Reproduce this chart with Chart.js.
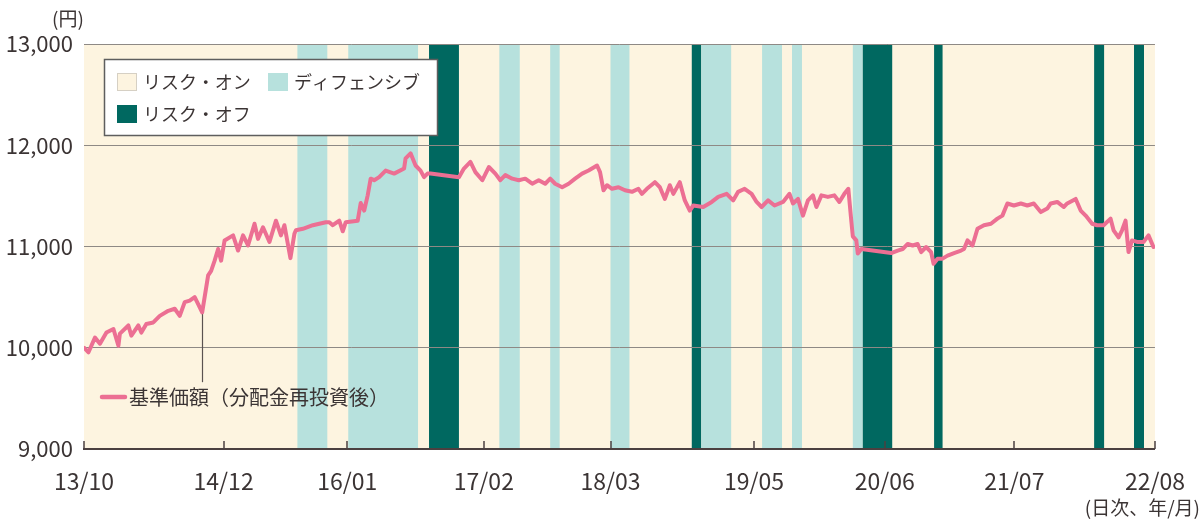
<!DOCTYPE html>
<html lang="ja">
<head>
<meta charset="utf-8">
<title>基準価額の推移</title>
<script src="https://cdn.jsdelivr.net/npm/chart.js"></script>
<style>
  body { margin: 0; background: #fff; }
  canvas { display: block; }
</style>
</head>
<body>
<canvas id="navChart" width="1203" height="519"></canvas>
<script>
// x = trading-day index from 2013/10 (about 2 days per step of the axis)
const tickDays   = [0, 280, 528, 802, 1056, 1344, 1606, 1866, 2148];
const tickLabels = ['13/10', '14/12', '16/01', '17/02', '18/03', '19/05', '20/06', '21/07', '22/08'];
const yTicks     = [9000, 10000, 11000, 12000, 13000];

// 基準価額（分配金再投資後）
const navDay = [
  0, 9, 22, 32, 45, 59, 69, 72, 89, 95, 109, 115, 125, 139, 152, 169, 182, 192, 202, 212,
  222, 229, 237, 249, 255, 262, 269, 275, 282, 299, 309, 319, 329, 342, 349, 359, 372, 385, 395, 402,
  414, 422, 425, 439, 459, 485, 492, 499, 512, 519, 525, 549, 555, 562, 569, 575, 582, 592, 605, 622,
  642, 645, 655, 665, 675, 682, 689, 695, 752, 762, 775, 785, 799, 812, 825, 835, 845, 859, 872, 885,
  899, 912, 925, 935, 945, 959, 972, 985, 999, 1012, 1029, 1035, 1042, 1049, 1059, 1072, 1085, 1099, 1112, 1119,
  1129, 1145, 1155, 1165, 1175, 1182, 1195, 1205, 1215, 1222, 1242, 1259, 1272, 1289, 1302, 1312, 1325, 1339, 1349, 1359,
  1372, 1385, 1402, 1415, 1422, 1432, 1442, 1452, 1462, 1469, 1479, 1492, 1505, 1515, 1525, 1533, 1539, 1542, 1549, 1552,
  1559, 1619, 1632, 1642, 1652, 1662, 1672, 1679, 1689, 1699, 1704, 1712, 1722, 1732, 1745, 1759, 1765, 1772, 1782, 1792,
  1805, 1819, 1832, 1842, 1852, 1865, 1879, 1892, 1905, 1919, 1932, 1939, 1952, 1965, 1972, 1989, 1999, 2009, 2022, 2032,
  2045, 2059, 2065, 2075, 2082, 2089, 2095, 2102, 2112, 2125, 2135, 2145
];
const navValue = [
  10000, 9955, 10100, 10040, 10150, 10185, 10020, 10140, 10220, 10120, 10220, 10150, 10235, 10250, 10315, 10365, 10385, 10315, 10450, 10465,
  10500, 10430, 10350, 10715, 10760, 10860, 10975, 10860, 11060, 11110, 10960, 11110, 11010, 11225, 11075, 11190, 11045, 11255, 11110, 11210,
  10885, 11125, 11160, 11175, 11210, 11240, 11240, 11210, 11255, 11150, 11240, 11255, 11430, 11355, 11505, 11670, 11655, 11685, 11750, 11720,
  11770, 11870, 11920, 11800, 11750, 11685, 11720, 11720, 11685, 11770, 11835, 11735, 11655, 11785, 11720, 11655, 11705, 11670, 11655, 11670,
  11620, 11655, 11620, 11670, 11620, 11585, 11620, 11670, 11720, 11750, 11800, 11735, 11555, 11605, 11570, 11585, 11555, 11540, 11570, 11520,
  11570, 11635, 11585, 11470, 11605, 11520, 11635, 11455, 11355, 11405, 11390, 11440, 11490, 11520, 11455, 11540, 11570, 11520, 11440, 11390,
  11455, 11405, 11440, 11520, 11425, 11470, 11305, 11455, 11505, 11390, 11505, 11490, 11505, 11440, 11520, 11570, 11250, 11100, 11060, 10930,
  10975, 10935, 10960, 10975, 11025, 11010, 11025, 10945, 10995, 10945, 10830, 10880, 10880, 10910, 10935, 10960, 10975, 11060, 11010, 11175,
  11210, 11225, 11275, 11305, 11425, 11405, 11425, 11405, 11425, 11340, 11375, 11425, 11440, 11390, 11425, 11470, 11355, 11305, 11225, 11210,
  11210, 11275, 11160, 11090, 11160, 11255, 10945, 11060, 11045, 11045, 11110, 10995
];

// regime periods (everything else is リスク・オン)
const regimeNames  = ['リスク・オン', 'ディフェンシブ', 'リスク・オフ'];
const regimeColors = ['#fdf4e0', '#b7e1dd', '#006860'];
const regimeStart  = [428, 530, 692, 833, 935, 1056, 1219, 1238, 1360, 1420, 1542, 1562, 1705, 2026, 2106];
const regimeEnd    = [488, 670, 752, 874, 954, 1094, 1238, 1298, 1400, 1440, 1562, 1621, 1722, 2046, 2126];
const regimeType   = [1, 1, 2, 1, 1, 1, 2, 1, 1, 1, 1, 2, 2, 2, 2];

// leader from the series label up to the line
const labelDay = 237, labelFrom = 10350, labelTo = 9660;

const FONT = '"Noto Sans CJK JP", "Noto Sans", sans-serif';
const TEXT = '#3b3434';
const LINE = '#ec6f93';

const backdrop = {
  id: 'backdrop',
  beforeDraw(chart) {
    const { ctx, chartArea: a, scales: { x } } = chart;
    ctx.save();
    ctx.fillStyle = regimeColors[0];
    ctx.fillRect(a.left, a.top, a.right - a.left, a.bottom - a.top);
    for (let i = 0; i < regimeStart.length; i++) {
      const x0 = x.getPixelForValue(regimeStart[i]);
      const x1 = x.getPixelForValue(regimeEnd[i]);
      ctx.fillStyle = regimeColors[regimeType[i]];
      ctx.fillRect(x0, a.top, x1 - x0, a.bottom - a.top);
    }
    ctx.restore();
  },
  beforeDatasetsDraw(chart) {
    const { ctx, scales: { x, y } } = chart;
    const px = Math.round(x.getPixelForValue(labelDay)) + 0.5;
    ctx.save();
    ctx.strokeStyle = '#5a5250';
    ctx.lineWidth = 1.2;
    ctx.beginPath();
    ctx.moveTo(px, y.getPixelForValue(labelFrom));
    ctx.lineTo(px, y.getPixelForValue(labelTo));
    ctx.stroke();
    ctx.restore();
  },
  afterDraw(chart) {
    const { ctx, chartArea: a, scales: { x } } = chart;
    ctx.save();
    // inward tick marks on the x axis
    ctx.strokeStyle = '#4b4040';
    ctx.lineWidth = 1.5;
    tickDays.forEach(d => {
      const px = Math.round(x.getPixelForValue(d));
      ctx.beginPath();
      ctx.moveTo(px, a.bottom);
      ctx.lineTo(px, a.bottom - 8);
      ctx.stroke();
    });

    // series label
    ctx.strokeStyle = LINE;
    ctx.lineWidth = 4.5;
    ctx.lineCap = 'round';
    ctx.beginPath();
    ctx.moveTo(102, 397);
    ctx.lineTo(125, 397);
    ctx.stroke();
    ctx.fillStyle = TEXT;
    ctx.font = '20px ' + FONT;
    ctx.textBaseline = 'middle';
    ctx.textAlign = 'left';
    ctx.fillText('基準価額（分配金再投資後）', 129, 397);

    // regime legend box
    ctx.fillStyle = '#fff';
    ctx.fillRect(104, 59, 333, 76);
    ctx.strokeStyle = '#5e5e5e';
    ctx.lineWidth = 1.5;
    ctx.strokeRect(104.5, 59.5, 333, 76);
    const items = [[117, 73, 0], [268, 73, 1], [117, 105, 2]];
    ctx.font = '18px ' + FONT;
    items.forEach(([lx, ly, k]) => {
      ctx.fillStyle = regimeColors[k];
      ctx.fillRect(lx, ly, 20, 18);
      if (k === 0) {
        ctx.strokeStyle = '#d6d0c4';
        ctx.lineWidth = 1;
        ctx.strokeRect(lx + 0.5, ly + 0.5, 19, 17);
      }
      ctx.fillStyle = TEXT;
      ctx.fillText(regimeNames[k], lx + 26, ly + 9);
    });

    // unit labels
    ctx.font = '19px ' + FONT;
    ctx.textAlign = 'center';
    ctx.fillText('(円)', 68, 19);
    ctx.textAlign = 'right';
    ctx.fillText('(日次、年/月)', 1200, 508);
    ctx.restore();
  }
};

new Chart(document.getElementById('navChart'), {
  type: 'line',
  data: {
    datasets: [{
      label: '基準価額（分配金再投資後）',
      data: navDay.map((d, i) => ({ x: d, y: navValue[i] })),
      borderColor: LINE,
      borderWidth: 4,
      pointRadius: 0,
      tension: 0,
      borderJoinStyle: 'round',
      borderCapStyle: 'round'
    }]
  },
  options: {
    responsive: false,
    animation: false,
    layout: { padding: { top: 44, right: 45, left: 0, bottom: 0 } },
    plugins: { legend: { display: false }, tooltip: { enabled: false } },
    scales: {
      x: {
        type: 'linear',
        min: 0,
        max: 2148,
        afterBuildTicks: s => { s.ticks = tickDays.map(v => ({ value: v })); },
        afterFit: s => { s.height = 70; },
        grid: { display: false, drawTicks: false },
        border: { display: true, color: '#4b4040', width: 2 },
        ticks: {
          autoSkip: false,
          maxRotation: 0,
          padding: 18,
          color: TEXT,
          font: { family: FONT, size: 23 },
          callback: v => tickLabels[tickDays.indexOf(v)]
        }
      },
      y: {
        min: 9000,
        max: 13000,
        afterBuildTicks: s => { s.ticks = yTicks.map(v => ({ value: v })); },
        afterFit: s => { s.width = 84; },
        grid: { color: '#8e8985', lineWidth: 1, drawTicks: false },
        border: { display: false },
        ticks: {
          padding: 11,
          color: TEXT,
          font: { family: FONT, size: 22 },
          callback: v => v.toLocaleString('en-US')
        }
      }
    }
  },
  plugins: [backdrop]
});
</script>
</body>
</html>
